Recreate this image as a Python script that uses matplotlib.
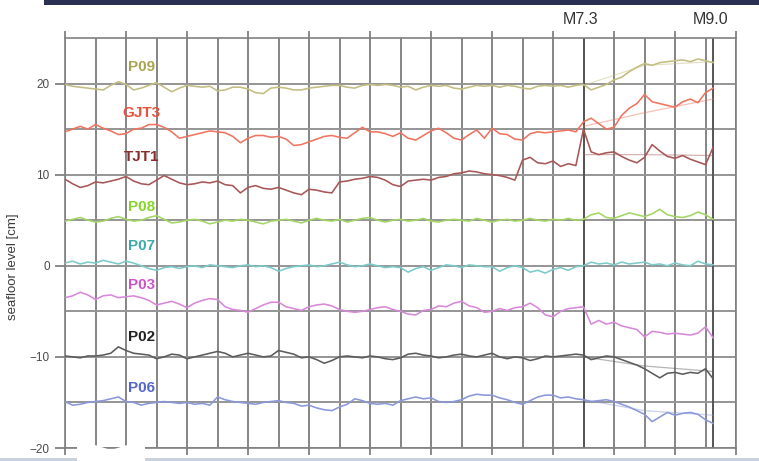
import matplotlib
matplotlib.use("Agg")
import matplotlib.pyplot as plt
import numpy as np
from matplotlib.patches import Rectangle, Polygon

plt.rcParams['font.family'] = ['Liberation Sans', 'DejaVu Sans']

# samples every quarter of a grid interval, one row per interval
step = 0.25

p09 = [19.9, 19.7, 19.6, 19.5,
       19.4, 19.3, 19.8, 20.2,
       19.9, 19.3, 19.5, 19.8,
       20.1, 19.6, 19.1, 19.5,
       19.8, 19.7, 19.6, 19.7,
       19.2, 19.3, 19.6, 19.6,
       19.4, 19.0, 18.9, 19.5,
       19.6, 19.5, 19.3, 19.3,
       19.5, 19.6, 19.7, 19.8,
       19.8, 19.6, 19.5, 19.8,
       19.9, 19.8, 19.9, 19.8,
       19.6, 19.7, 19.3, 19.6,
       19.8, 19.7, 19.8, 19.5,
       19.4, 19.6, 19.8, 19.7,
       19.8, 19.6, 19.8, 19.7,
       19.5, 19.4, 19.7, 19.8,
       19.7, 19.8, 19.6, 19.8,
       19.9, 19.3, 19.6, 19.9,
       20.4, 20.7, 21.3, 21.8,
       22.2, 22.0, 22.3, 22.4,
       22.5, 22.6, 22.4, 22.7,
       22.5, 22.3]

gjt3 = [14.7, 15.0, 15.3, 15.0,
        15.5, 15.1, 14.8, 14.4,
        14.5, 15.0, 15.1, 15.5,
        15.5, 15.2, 14.7, 14.0,
        14.2, 14.4, 14.6, 14.8,
        14.7, 14.6, 14.2, 13.5,
        14.0, 14.3, 14.3, 14.1,
        14.2, 13.9, 13.2, 13.3,
        13.6, 13.9, 14.2, 14.3,
        14.1, 14.0, 14.6, 15.2,
        14.7, 14.7, 14.5, 14.2,
        14.6, 14.0, 13.8, 14.3,
        14.8, 15.1, 14.6, 14.0,
        13.8, 14.4, 14.9, 14.0,
        15.1, 14.5, 14.4, 13.9,
        13.8, 14.5, 14.7, 14.6,
        14.7, 14.8, 14.9, 14.7,
        15.8, 16.2, 15.6, 15.0,
        15.2, 16.5, 17.3, 17.8,
        18.8, 18.0, 17.8, 17.6,
        17.4, 18.0, 18.3, 17.9,
        19.0, 19.5]

tjt1 = [9.5, 9.0, 8.6, 8.8,
        9.2, 9.1, 9.3, 9.5,
        9.8, 9.3, 9.0, 8.9,
        9.4, 9.9, 9.5, 9.1,
        8.9, 9.0, 9.2, 9.1,
        9.3, 8.9, 8.8, 8.0,
        8.6, 8.8, 8.5, 8.4,
        8.6, 8.3, 8.0, 7.8,
        8.4, 8.3, 8.1, 8.0,
        9.2, 9.3, 9.5, 9.6,
        9.8, 9.7, 9.4, 8.9,
        8.7, 9.3, 9.4, 9.5,
        9.4, 9.7, 9.8, 10.1,
        10.2, 10.4, 10.3, 10.1,
        10.0, 9.9, 9.7, 9.4,
        11.6, 11.9, 11.3, 11.2,
        11.5, 10.9, 11.2, 11.0,
        15.0, 12.5, 12.2, 12.4,
        12.5, 12.0, 11.6, 11.3,
        11.9, 13.3, 12.6, 12.0,
        11.8, 12.1, 11.7, 11.4,
        11.1, 13.0]

p08 = [4.9, 5.1, 5.3, 5.0,
       4.8, 4.9, 5.2, 5.4,
       5.1, 4.9, 5.0, 5.3,
       5.5, 5.1, 4.7, 4.8,
       5.0, 5.1, 4.9, 4.6,
       4.8, 5.0, 4.9, 5.1,
       5.0, 4.8, 4.6, 4.9,
       5.0, 5.1, 4.9, 4.7,
       5.0, 5.2, 5.0, 4.9,
       5.1, 4.8, 5.0, 5.2,
       5.3, 5.0, 4.8, 5.0,
       5.1, 4.9, 5.0, 5.2,
       4.9, 4.8, 5.0, 5.1,
       5.0, 4.9, 5.2, 5.0,
       4.8, 5.0, 5.1, 4.9,
       5.0, 5.2, 5.0, 4.9,
       5.1, 5.0, 5.2, 5.0,
       5.1, 5.6, 5.8, 5.3,
       5.2, 5.5, 5.8, 5.6,
       5.4, 5.7, 6.2, 5.6,
       5.4, 5.3, 5.5, 5.9,
       5.6, 5.1]

p07 = [0.3, 0.5, 0.2, 0.4,
       0.3, 0.6, 0.4, 0.2,
       0.5, 0.3, 0.0, -0.3,
       -0.5, -0.2, -0.1, -0.3,
       -0.1, 0.0, -0.2, 0.1,
       0.0, -0.1, -0.2, 0.0,
       0.1, -0.1, 0.0, -0.2,
       -0.6, -0.3, -0.1, 0.0,
       0.1, -0.1, 0.0, 0.2,
       0.4, 0.1, -0.1, 0.0,
       0.2, 0.0, -0.2, -0.1,
       -0.2, -0.7, -0.3, -0.1,
       -0.5, -0.2, 0.1, 0.0,
       -0.2, 0.1, 0.0, -0.1,
       -0.1, -0.6, -0.2, 0.0,
       -0.2, -0.7, -0.5, -0.8,
       -0.4, -0.2, -0.5, -0.1,
       0.0, 0.4, 0.2, 0.3,
       0.1, 0.4, 0.2, 0.3,
       0.4, 0.1, 0.2, 0.0,
       0.3, 0.1, 0.0, 0.5,
       0.2, 0.1]

p03 = [-3.5, -3.3, -2.9, -3.2,
       -3.7, -3.3, -3.2, -3.5,
       -3.4, -3.3, -3.5, -3.8,
       -4.3, -4.1, -3.9, -4.2,
       -4.6, -4.1, -3.8, -3.6,
       -3.7, -4.5, -4.8, -4.9,
       -5.1, -4.7, -4.3, -4.0,
       -4.0, -4.5, -4.7, -4.9,
       -4.5, -4.3, -4.2, -4.4,
       -4.8, -5.0, -5.1, -5.0,
       -4.8, -4.6, -4.5, -4.8,
       -5.0, -5.3, -5.4, -4.9,
       -4.8, -4.4, -4.5, -4.1,
       -3.9, -4.4, -4.6, -5.1,
       -5.0, -4.7, -4.9, -4.6,
       -4.5, -4.1, -4.6, -5.4,
       -5.6, -5.0, -4.7, -4.6,
       -4.5, -6.4, -6.0, -6.4,
       -6.2, -6.6, -6.8, -7.0,
       -7.8, -7.2, -7.3, -7.5,
       -7.4, -7.5, -7.6, -7.4,
       -6.7, -7.9]

p02 = [-9.9, -10.0, -10.1, -9.9,
       -9.9, -9.8, -9.6, -8.9,
       -9.3, -9.6, -9.7, -9.8,
       -10.2, -10.0, -9.7, -9.8,
       -10.2, -10.0, -9.8, -9.6,
       -9.4, -9.6, -10.0, -9.8,
       -9.6, -9.8, -10.0, -9.9,
       -9.3, -9.5, -9.7, -10.1,
       -10.0, -10.3, -10.7, -10.4,
       -10.0, -9.9, -10.0, -10.1,
       -9.9, -10.0, -10.2, -10.3,
       -10.1, -9.7, -9.6, -9.8,
       -9.9, -10.1, -10.0, -9.8,
       -9.7, -9.9, -10.0, -9.8,
       -9.6, -10.0, -10.2, -10.0,
       -10.1, -10.4, -10.2, -9.9,
       -10.0, -9.9, -9.8, -9.7,
       -9.8, -10.3, -10.1, -9.9,
       -10.0, -10.3, -10.6, -10.9,
       -11.3, -11.8, -12.3, -11.8,
       -11.7, -11.9, -11.7, -11.8,
       -11.3, -12.4]

p06 = [-14.9, -15.3, -15.2, -15.0,
       -14.9, -14.8, -14.6, -14.4,
       -14.9, -15.0, -15.3, -15.1,
       -15.0, -14.9, -15.0, -15.1,
       -15.0, -15.2, -15.1, -15.3,
       -14.4, -14.7, -14.9, -15.0,
       -15.1, -15.2, -15.0, -14.9,
       -14.8, -15.0, -15.1, -15.4,
       -15.3, -15.6, -15.8, -15.9,
       -15.5, -15.2, -14.6, -14.8,
       -15.1, -15.2, -15.1, -15.3,
       -14.8, -14.6, -14.4, -14.6,
       -14.5, -14.9, -15.0, -14.9,
       -14.7, -14.3, -14.1, -14.2,
       -14.2, -14.5, -14.7, -15.0,
       -15.2, -14.8, -14.4, -14.2,
       -14.2, -14.5, -14.4, -14.6,
       -14.7, -14.9, -14.8, -14.7,
       -14.9, -15.2, -15.5, -15.9,
       -16.3, -17.1, -16.6, -16.1,
       -16.4, -16.2, -16.1, -16.3,
       -16.9, -17.3]

# faint model curves after the M7.3 event
model_x = [17, 19, 21.25]
p09_model = [19.8, 22.0, 22.4]
gjt3_model = [15.3, 16.8, 18.3]
tjt1_model = [12.2, 12.2, 12.1]
p02_model = [-10.0, -11.0, -11.6]
p06_model = [-14.7, -15.9, -16.4]

names = ["P09", "GJT3", "TJT1", "P08", "P07", "P03", "P02", "P06"]
series = [p09, gjt3, tjt1, p08, p07, p03, p02, p06]
line_colors = ["#c2bd80", "#f07460", "#a85656", "#a3d665", "#7ccaca", "#d888d8", "#5c5c5c", "#8a98da"]
label_colors = ["#aaa552", "#e9503d", "#8a2c2c", "#86d72a", "#3faaaa", "#cc55cc", "#222222", "#5566cc"]
label_y = [21.8, 16.8, 11.9, 6.5, 2.2, -2.1, -7.8, -13.4]
models = {"P09": p09_model, "GJT3": gjt3_model, "TJT1": tjt1_model,
          "P02": p02_model, "P06": p06_model}

event_x = [17, 21.25]
event_names = ["M7.3", "M9.0"]

fig = plt.figure(figsize=(7.59, 4.61), dpi=100)
ax = fig.add_axes([65 / 759, 13 / 461, 671 / 759, 410 / 461])

ax.set_xlim(0, 22)
ax.set_ylim(-20, 25)

ax.set_xticks(range(0, 23, 2))
ax.set_xticks(range(23), minor=True)
ax.set_yticks([-20, -10, 0, 10, 20])
ax.set_yticks([-15, -5, 5, 15], minor=True)
ax.tick_params(axis='x', which='major', top=True, bottom=True, direction='out',
               length=5, width=1.2, color='#777777', labelbottom=False)
ax.tick_params(axis='x', which='minor', length=0)
ax.tick_params(axis='y', which='major', direction='out', length=7, width=1.2,
               color='#777777', labelsize=8.5, labelcolor='#4a4a4a', pad=4)
ax.tick_params(axis='y', which='minor', length=0)
ax.grid(which='both', axis='x', color='#7c7c7c', lw=1.3)
ax.grid(which='both', axis='y', color='#959595', lw=1.4)
ax.set_axisbelow(True)
for s in ax.spines.values():
    s.set_color('#808080')
    s.set_linewidth(1.2)

for xe in event_x:
    ax.axvline(xe, color='#555555', lw=1.4, zorder=1.5)

for name, ys, c in zip(names, series, line_colors):
    xs = np.arange(len(ys)) * step
    ax.plot(xs, ys, color=c, lw=1.15, zorder=3)
    if name in models:
        ax.plot(model_x, models[name], color=c, lw=0.9, alpha=0.45, zorder=2.5)

for name, yl, c in zip(names, label_y, label_colors):
    ax.text(2.5, yl, name, color=c, fontsize=11, fontweight='bold',
            ha='center', va='center', zorder=4)

for xe, t in zip(event_x, event_names):
    ax.text(xe - 0.1, 25 + 18 / 9.1, t, color='#333333', fontsize=11.5,
            ha='center', va='center', clip_on=False)

fig.text(13 / 759, 1 - 267 / 461, 'seafloor level [cm]', rotation=90,
         ha='center', va='center', fontsize=9.5, color='#3a3a3a')

# slide frame bits around the picture
fig.add_artist(Rectangle((44 / 759, 1 - 5 / 461), 1, 5 / 461,
                         transform=fig.transFigure, color='#2b3152', lw=0))
fig.add_artist(Rectangle((0, 0), 1, 3 / 461, transform=fig.transFigure,
                         color='#c9d0de', lw=0))
notch = [(77, 461), (77, 445), (85, 442), (111, 450), (137, 442), (145, 445), (145, 461)]
fig.add_artist(Polygon([(px / 759, 1 - py / 461) for px, py in notch], closed=True,
                       transform=fig.transFigure, color='white', lw=0))

fig.savefig('out.png', dpi=100)
